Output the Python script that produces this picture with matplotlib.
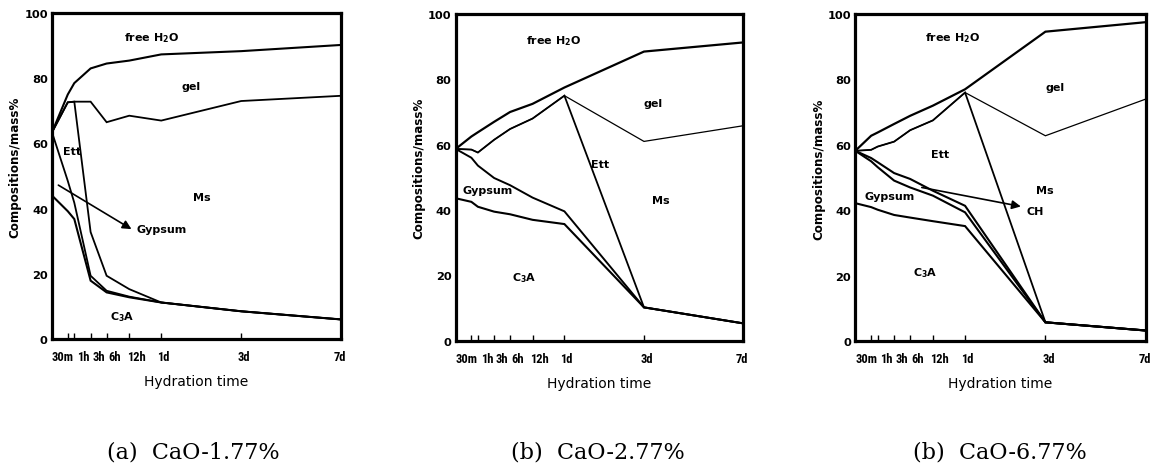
import numpy as np
import matplotlib
matplotlib.use("Agg")
import matplotlib.pyplot as plt
from matplotlib.transforms import ScaledTranslation
from matplotlib import font_manager

# ---------------- data ----------------
hours = [0, 0.5, 1, 3, 6, 12, 24, 72, 168]
tick_hours = [0.5, 1, 3, 6, 12, 24, 72, 168]
tick_labels = ["30m", "1h", "3h", "6h", "12h", "1d", "3d", "7d"]
y_ticks = [0, 20, 40, 60, 80, 100]

# cumulative boundaries (mass%) - panel (a) CaO-1.77%
a_water = [63.4, 75.0, 78.5, 83.0, 84.5, 85.4, 87.3, 88.3, 90.2]
a_gel = [63.4, 72.6, 72.8, 72.8, 66.5, 68.5, 67.0, 73.0, 74.6]
a_ett = [63.4, 72.6, 72.8, 32.8, 19.4, 15.3, 11.2, 8.5, 6.0]
a_gyp = [63.4, 48.5, 41.8, 19.4, 14.8, 13.0, 11.2, 8.5, 6.0]
a_c3a = [44.0, 39.2, 36.8, 17.9, 14.3, 12.8, 11.2, 8.5, 6.0]

# panel (b) CaO-2.77%
b_water = [58.7, 62.5, 63.8, 67.0, 70.0, 72.5, 77.5, 88.5, 91.3]
b_gel = [58.7, 58.5, 57.6, 61.5, 64.8, 68.0, 75.0, 61.0, 65.8]
b_ett = [58.7, 58.5, 57.6, 61.5, 64.8, 68.0, 75.0, 10.2, 5.3]
b_gyp = [58.7, 56.0, 53.6, 49.8, 47.6, 43.8, 39.6, 10.2, 5.3]
b_c3a = [43.6, 42.5, 41.0, 39.5, 38.7, 37.0, 35.7, 10.2, 5.3]

# panel (c) CaO-6.77%
c_water = [58.2, 62.8, 63.8, 66.4, 68.9, 72.0, 77.0, 94.6, 97.5]
c_gel = [58.2, 58.5, 59.5, 61.0, 64.5, 67.5, 76.0, 62.8, 74.0]
c_ett = [58.2, 58.5, 59.5, 61.0, 64.5, 67.5, 76.0, 5.8, 3.3]
c_ch = [58.2, 56.0, 54.7, 51.4, 49.6, 46.0, 41.4, 5.8, 3.3]
c_gyp = [58.2, 55.0, 53.2, 49.1, 47.0, 44.5, 39.4, 5.8, 3.3]
c_c3a = [42.2, 41.0, 40.2, 38.6, 37.8, 36.7, 35.2, 5.8, 3.3]

captions = ["(a)  CaO-1.77%", "(b)  CaO-2.77%", "(b)  CaO-6.77%"]

# ---------------- figure ----------------
plt.rcParams['font.family'] = ['DejaVu Sans']
plt.rcParams['mathtext.fontset'] = 'dejavusans'

installed = {f.name for f in font_manager.fontManager.ttflist}
narrow_family = None
for cand in ['Liberation Sans Narrow', 'Roboto Condensed', 'Open Sans Condensed']:
    if cand in installed:
        narrow_family = cand
        break
if narrow_family is None:
    xt_font = dict(fontsize=7.9, fontweight='bold', family=['Roboto', 'DejaVu Sans'])
else:
    xt_font = dict(fontsize=9, fontweight='bold', family=[narrow_family, 'DejaVu Sans'])

fig = plt.figure(figsize=(11.52, 4.77), dpi=100)

rects = [
    [52 / 1152, 137 / 477, 289 / 1152, 326 / 477],
    [455.7 / 1152, 135.3 / 477, 287.6 / 1152, 326.7 / 477],
    [855.3 / 1152, 134.7 / 477, 290.4 / 1152, 327.3 / 477],
]

panels = [
    [(a_water, 1.5), (a_gel, 1.3), (a_ett, 1.3), (a_gyp, 1.3), (a_c3a, 1.5)],
    [(b_water, 1.6), (b_gel, 0.9), (b_ett, 1.3), (b_gyp, 1.4), (b_c3a, 1.5)],
    [(c_water, 1.6), (c_gel, 0.9), (c_ett, 1.3), (c_ch, 1.5), (c_gyp, 1.5), (c_c3a, 1.5)],
]

label_dx_px = [-5, 9, 8, 8, 7, 2, 3, -1]

lab_font = dict(fontsize=8, fontweight='bold', family=['DejaVu Sans'])

texts = [
    [("free H$_\\mathbf{2}$O", 0.346, 0.926, 'center'), ("gel", 0.48, 0.776, 'center'),
     ("Ett", 0.07, 0.577, 'center'), ("Ms", 0.52, 0.435, 'center'),
     ("Gypsum", 0.294, 0.337, 'left'), ("C$_\\mathbf{3}$A", 0.242, 0.071, 'center')],
    [("free H$_\\mathbf{2}$O", 0.34, 0.92, 'center'), ("gel", 0.686, 0.728, 'center'),
     ("Ett", 0.502, 0.541, 'center'), ("Gypsum", 0.023, 0.461, 'left'),
     ("Ms", 0.714, 0.43, 'center'), ("C$_\\mathbf{3}$A", 0.237, 0.194, 'center')],
    [("free H$_\\mathbf{2}$O", 0.336, 0.929, 'center'), ("gel", 0.688, 0.776, 'center'),
     ("Ett", 0.293, 0.572, 'center'), ("Ms", 0.653, 0.463, 'center'),
     ("Gypsum", 0.03, 0.443, 'left'), ("CH", 0.588, 0.399, 'left'),
     ("C$_\\mathbf{3}$A", 0.24, 0.21, 'center')],
]

arrows = [
    ((0.022, 0.472), (0.275, 0.337)),
    None,
    ((0.229, 0.47), (0.57, 0.412)),
]

cap_x = [193 / 1152, 598 / 1152, 1000 / 1152]

for i in range(3):
    ax = fig.add_axes(rects[i])
    ax.set_xscale('function', functions=(np.sqrt, np.square))
    for series, lw in panels[i]:
        ax.plot(hours, series, color='black', lw=lw, solid_joinstyle='miter')
    ax.set_xlim(0, 168)
    ax.set_ylim(0, 100)
    for s in ax.spines.values():
        s.set_linewidth(2.3)
    ax.set_yticks(y_ticks)
    ax.set_yticklabels([str(v) for v in y_ticks], fontsize=8.2, fontweight='bold')
    ax.tick_params(axis='y', length=0, pad=3)
    ax.set_xticks(tick_hours)
    ax.set_xticklabels(tick_labels, **xt_font)
    ax.xaxis.set_minor_locator(matplotlib.ticker.NullLocator())
    ax.tick_params(axis='x', direction='in', length=4, width=1.0, pad=8)
    for lab, dx in zip(ax.get_xticklabels(), label_dx_px):
        lab.set_transform(lab.get_transform() + ScaledTranslation(dx / 100, 0, fig.dpi_scale_trans))
    ax.set_ylabel("Compositions/mass%", fontsize=8.6, fontweight='bold')
    ax.yaxis.label.set_va('center')
    ax.yaxis.set_label_coords(-0.127, 0.53)
    ax.set_xlabel("Hydration time", fontsize=10)
    ax.xaxis.label.set_va('center')
    ax.xaxis.set_label_coords(0.5, -0.128)
    for txt, x, y, ha in texts[i]:
        ax.text(x, y, txt, transform=ax.transAxes, ha=ha, va='center', **lab_font)
    if arrows[i] is not None:
        (x0, y0), (x1, y1) = arrows[i]
        ax.annotate("", xy=(x1, y1), xytext=(x0, y0), xycoords='axes fraction',
                    textcoords='axes fraction',
                    arrowprops=dict(arrowstyle='-|>', lw=1.2, color='black',
                                    mutation_scale=13, shrinkA=0, shrinkB=0))
    fig.text(cap_x[i], 0.052, captions[i], ha='center', va='center',
             fontsize=16, family=['DejaVu Serif'])

fig.savefig("out.png", dpi=100)
